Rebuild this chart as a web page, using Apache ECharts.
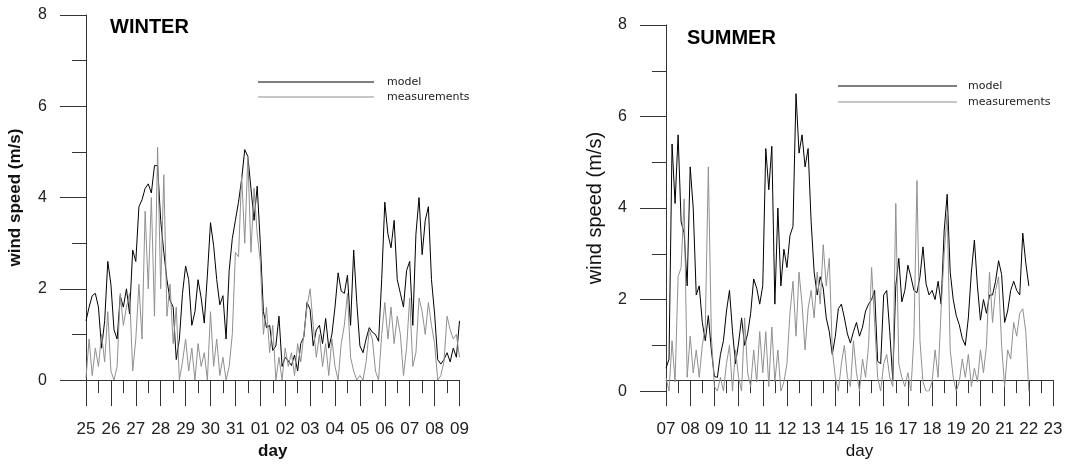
<!DOCTYPE html>
<html>
<head>
<meta charset="utf-8">
<script src="https://cdn.jsdelivr.net/npm/echarts@6/dist/echarts.min.js"></script>
<style>
  html, body { margin: 0; padding: 0; background: #ffffff; }
  #chart { width: 1075px; height: 465px; }
</style>
</head>
<body>
<div id="chart"></div>
<script>
// 3-hourly samples, 8 per day
const STEP = 1 / 8;

const winterDays = ["25", "26", "27", "28", "29", "30", "31", "01", "02", "03", "04", "05", "06", "07", "08", "09"];
const summerDays = ["07", "08", "09", "10", "11", "12", "13", "14", "15", "16", "17", "18", "19", "20", "21", "22", "23"];
const yTicks = [0, 2, 4, 6, 8];

const winterModel = [
  1.3, 1.6, 1.85, 1.9, 1.6, 0.7, 1.3, 2.6,
  2.1, 1.1, 0.9, 1.85, 1.6, 2.0, 1.45, 2.85,
  2.6, 3.8, 3.95, 4.2, 4.3, 4.1, 4.7, 4.7,
  3.5, 2.8, 2.2, 1.75, 1.6, 0.45, 0.9, 1.9,
  2.5, 2.2, 1.2, 1.5, 2.2, 1.8, 1.25, 2.3,
  3.45, 2.95, 2.2, 1.65, 1.85, 0.9, 2.4, 3.1,
  3.5, 3.9, 4.4, 5.05, 4.9, 4.2, 3.5, 4.25,
  3.0, 1.5, 1.15, 1.2, 0.65, 0.75, 1.4, 0.3,
  0.5, 0.42, 0.32, 0.55, 0.2, 0.8, 0.95, 1.7,
  1.55, 0.75, 1.1, 1.2, 0.8, 1.35, 0.7, 1.0,
  1.6, 2.35, 1.95, 1.9, 2.3, 1.2, 2.85, 1.7,
  0.75, 0.6, 0.9, 1.15, 1.05, 1.0, 0.85, 2.2,
  3.9, 3.2, 2.9, 3.5, 2.2, 1.9, 1.6, 2.4,
  2.6, 1.2, 3.2, 4.0, 2.75, 3.5, 3.8, 2.2,
  1.45, 0.45, 0.35, 0.45, 0.6, 0.4, 0.7, 0.5,
  1.3
];
const winterMeas = [
  0.05, 0.9, 0.1, 0.7, 0.3, 1.0, 0.4, 1.5,
  0.2, 0.0, 0.3, 1.9, 1.2, 1.6, 1.9, 0.2,
  0.9, 2.1, 0.9, 3.7, 2.0, 4.0, 1.4, 5.1,
  2.0, 4.5, 1.4, 2.1, 0.8, 1.6, 0.0, 0.4,
  0.9, 0.2, 0.7, 0.0, 0.8, 0.3, 0.6, 0.0,
  1.5, 0.3, 0.9, 0.1, 0.5, 0.0, 0.3, 1.0,
  2.8, 2.7, 4.5, 3.0, 4.9, 2.8, 4.2, 3.2,
  2.6, 1.0, 1.6, 0.6, 1.2, 0.0, 0.5, 0.0,
  0.7, 0.3, 0.6, 0.1, 0.8, 0.4, 1.0, 1.6,
  2.0, 1.2, 0.5, 1.0, 0.3, 0.8, 0.1, 0.9,
  0.3, 0.0, 0.8, 1.2, 1.9, 0.5, 0.2, 0.0,
  0.1, 0.0, 0.4, 1.1, 0.9, 0.2, 0.0, 1.0,
  1.7, 0.9, 1.6, 0.8, 1.4, 1.0, 0.1, 0.7,
  1.8, 0.3, 0.6, 1.8, 1.5, 1.0, 1.7, 1.2,
  0.8, 0.0, 0.1, 0.4, 1.4, 1.1, 0.9, 1.0,
  0.5
];
const summerModel = [
  0.5, 0.7, 5.4, 4.1, 5.6, 3.7, 3.45, 2.3,
  4.9, 4.0, 2.1, 2.3, 1.5, 1.1, 1.65, 0.9,
  0.32, 0.3, 0.8, 1.1, 1.75, 2.2, 1.3, 0.6,
  1.05, 1.6, 1.0, 1.25, 1.7, 2.45, 2.25, 1.9,
  2.3, 5.3, 4.4, 5.35, 1.9, 4.0, 2.3, 3.1,
  2.7, 3.4, 3.6, 6.5, 5.2, 5.6, 4.9, 5.3,
  3.7, 2.6, 2.1, 2.5, 2.25, 1.6, 1.3, 0.8,
  1.2, 1.8, 1.9, 1.6, 1.25, 1.05, 1.3, 1.5,
  1.2, 1.4, 1.75, 1.9, 2.0, 2.2, 0.65, 0.6,
  2.1, 2.2, 1.3, 0.25, 2.3, 2.9, 1.95, 2.2,
  2.75, 2.5, 2.2, 2.15, 2.5, 3.15, 2.35, 2.1,
  2.2, 2.0, 2.4, 1.9, 3.5, 4.3, 2.6, 2.0,
  1.65, 1.45, 1.15, 1.0, 1.6, 2.6, 3.3, 2.3,
  1.55, 2.0, 1.7, 2.1, 2.1, 2.4, 2.85, 2.55,
  1.5, 1.75, 2.2, 2.4, 2.2, 2.1, 3.45, 2.8,
  2.3
];
const summerMeas = [
  0.3, 0.0, 1.1, 0.2, 2.5, 2.7, 4.2, 0.3,
  1.2, 0.4, 0.9, 0.3, 1.0, 1.4, 4.9, 1.2,
  0.1, 0.0, 0.3, 0.0, 0.6, 1.0, 0.0, 0.9,
  0.3, 0.0, 1.6, 0.4, 0.1, 0.9, 0.2, 1.3,
  0.4, 1.3, 0.1, 1.4, 0.2, 0.9, 0.0, 0.2,
  0.6, 1.7, 2.4, 1.2, 2.6, 1.9, 0.9, 1.8,
  2.2, 1.6, 2.6, 1.9, 3.2, 2.3, 2.9, 0.9,
  0.3, 0.0, 0.6, 1.0, 0.3, 0.1, 1.1, 0.4,
  0.0, 0.7, 0.3, 1.0, 2.7, 1.5, 0.3, 0.0,
  0.6, 0.8, 0.3, 0.1, 4.1, 0.6, 0.3, 0.1,
  0.4, 0.0, 1.2, 4.6, 1.1, 0.2, 0.0, 0.0,
  0.2, 0.9, 0.3, 1.8, 3.0, 3.9, 0.9, 0.3,
  0.0, 0.2, 0.7, 0.3, 0.8, 0.1, 0.5, 0.2,
  0.9, 0.4, 1.0, 2.6, 1.5, 2.2, 2.5, 1.0,
  0.1, 0.9, 0.7, 1.5, 1.2, 1.7, 1.8, 1.3,
  0.0
];

const FONT = "'Liberation Sans', Arial, sans-serif";
const AXIS = "#333333";
const MODEL_COLOR = "#000000";
const MEAS_COLOR = "#909090";

const toPoints = (arr) => arr.map((v, i) => [i * STEP, v]);

const xAxisFor = (gridIndex, labels, bold, offset, nameGap) => ({
  type: "value",
  gridIndex: gridIndex,
  min: 0,
  max: labels.length - 1,
  interval: 1,
  offset: offset,
  name: "day",
  nameLocation: "middle",
  nameGap: nameGap,
  nameTextStyle: { fontFamily: FONT, fontSize: 17, color: "#111", fontWeight: bold ? "bold" : "normal" },
  axisLine: { onZero: false, lineStyle: { color: AXIS, width: 1 } },
  axisTick: { show: true, length: 26, lineStyle: { color: AXIS } },
  minorTick: { show: true, splitNumber: 2, length: 13, lineStyle: { color: AXIS } },
  axisLabel: {
    margin: 41,
    fontFamily: FONT,
    fontSize: 17,
    color: "#222",
    formatter: (v) => labels[Math.round(v)]
  },
  splitLine: { show: false },
  minorSplitLine: { show: false }
});

const yAxisFor = (gridIndex, bold, fontSize, nameGap) => ({
  type: "value",
  gridIndex: gridIndex,
  min: yTicks[0],
  max: yTicks[yTicks.length - 1],
  interval: yTicks[1] - yTicks[0],
  name: "wind speed (m/s)",
  nameLocation: "middle",
  nameGap: nameGap,
  nameTextStyle: { fontFamily: FONT, fontSize: fontSize, color: "#111", fontWeight: bold ? "bold" : "normal" },
  axisLine: { show: true, onZero: false, lineStyle: { color: AXIS, width: 1 } },
  axisTick: { show: true, length: 26, lineStyle: { color: AXIS } },
  minorTick: { show: true, splitNumber: 2, length: 14, lineStyle: { color: AXIS } },
  axisLabel: { margin: 39, fontFamily: FONT, fontSize: 16, color: "#222" },
  splitLine: { show: false },
  minorSplitLine: { show: false }
});

const lineSeries = (name, color, xi, data) => ({
  name: name,
  type: "line",
  xAxisIndex: xi,
  yAxisIndex: xi,
  data: toPoints(data),
  showSymbol: false,
  symbol: "none",
  itemStyle: { color: color },
  lineStyle: { color: color, width: 1 },
  emphasis: { disabled: true }
});

const legendFor = (left, top, width, rowH, pad) => ({
  left: left,
  top: top,
  orient: "vertical",
  data: ["model", "measurements"],
  icon: "rect",
  itemWidth: width,
  itemHeight: 1,
  itemGap: 0,
  selectedMode: false,
  textStyle: { fontFamily: "'DejaVu Sans', sans-serif", fontSize: 11, lineHeight: rowH, color: "#222", padding: [0, 0, 0, pad] }
});

const chart = echarts.init(document.getElementById("chart"));

const option = {
  animation: false,
  backgroundColor: "#ffffff",
  title: [
    { text: "WINTER", left: 110, top: 17, padding: 0,
      textStyle: { fontFamily: FONT, fontSize: 20, fontWeight: "bold", color: "#000" } },
    { text: "SUMMER", left: 687, top: 28, padding: 0,
      textStyle: { fontFamily: FONT, fontSize: 20, fontWeight: "bold", color: "#000" } }
  ],
  legend: [
    legendFor(253, 69.5, 116, 15, 8),
    legendFor(833, 73, 119, 16, 6)
  ],
  grid: [
    { left: 86, top: 15, width: 373.5, height: 372 },
    { left: 666, top: 25, width: 387, height: 375 }
  ],
  xAxis: [
    xAxisFor(0, winterDays, true, 0, 60),
    xAxisFor(1, summerDays, false, -11, 58)
  ],
  yAxis: [
    yAxisFor(0, true, 17, 62),
    yAxisFor(1, false, 20, 61)
  ],
  series: [
    lineSeries("model", MODEL_COLOR, 0, winterModel),
    lineSeries("measurements", MEAS_COLOR, 0, winterMeas),
    lineSeries("model", MODEL_COLOR, 1, summerModel),
    lineSeries("measurements", MEAS_COLOR, 1, summerMeas)
  ]
};

chart.setOption(option);
</script>
</body>
</html>
